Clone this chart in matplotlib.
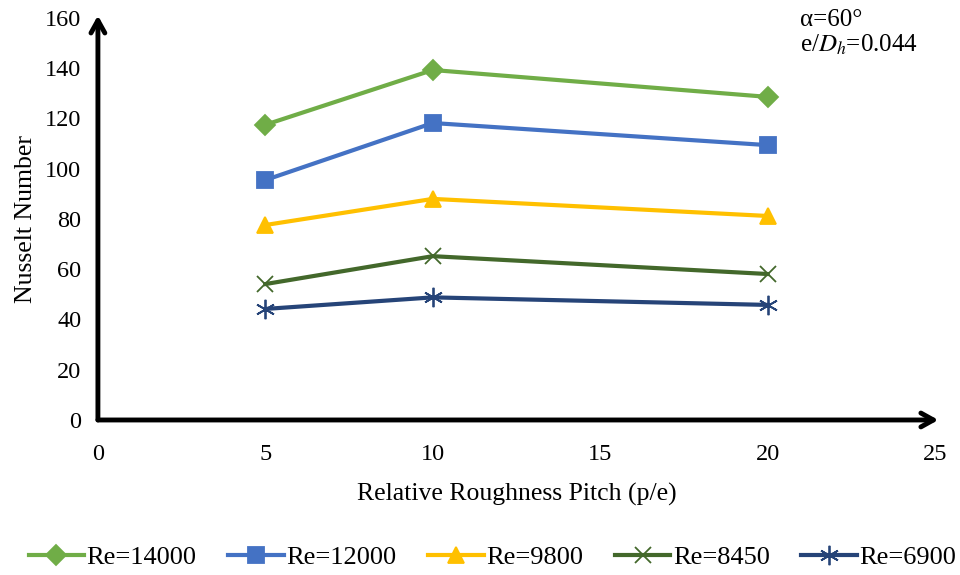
import matplotlib
matplotlib.use("Agg")
import matplotlib.pyplot as plt

plt.rcParams['font.family'] = ['Liberation Serif', 'DejaVu Serif']
plt.rcParams['mathtext.fontset'] = 'stix'

pitch = [5, 10, 20]
labels = ['Re=14000', 'Re=12000', 'Re=9800', 'Re=8450', 'Re=6900']
nu_14000 = [117.5, 139.3, 128.6]
nu_12000 = [95.5, 118.2, 109.4]
nu_9800 = [77.6, 88.0, 81.2]
nu_8450 = [54.1, 65.2, 58.1]
nu_6900 = [44.2, 48.8, 45.8]
series = [nu_14000, nu_12000, nu_9800, nu_8450, nu_6900]
colors = ['#70AD47', '#4472C4', '#FFC000', '#43682B', '#264478']
markers = ['D', 's', '^', 'x', (6, 2, 0)]
msizes = [10, 12, 12, 12, 14]

fig = plt.figure(figsize=(9.6, 5.75), dpi=100)
ax = fig.add_axes([0.102, 0.2696, 0.872, 0.6991])

for y, lab, c, m, ms in zip(series, labels, colors, markers, msizes):
    ax.plot(pitch, y, color=c, lw=3, marker=m, markersize=ms,
            markeredgewidth=1.3, markerfacecolor=c, markeredgecolor=c, label=lab)

ax.set_xlim(0, 25)
ax.set_ylim(0, 160)
ax.set_xticks([0, 5, 10, 15, 20, 25])
ax.set_yticks(range(0, 161, 20))
ax.tick_params(length=0, labelsize=17.5)
ax.tick_params(axis='x', pad=17)
ax.tick_params(axis='y', pad=12)
for s in ax.spines.values():
    s.set_visible(False)

# axis arrows
arrow_kw = dict(arrowstyle='->,head_length=0.9,head_width=0.5', lw=3.5, color='black',
                shrinkA=0, shrinkB=0)
ax.annotate('', xy=(0, 161), xytext=(0, 0), xycoords='data', arrowprops=arrow_kw,
            annotation_clip=False)
ax.annotate('', xy=(25.1, 0), xytext=(0, 0), xycoords='data', arrowprops=arrow_kw,
            annotation_clip=False)

ax.set_xlabel('Relative Roughness Pitch (p/e)', fontsize=18.5, labelpad=13)
ax.set_ylabel('Nusselt Number', fontsize=18.5, labelpad=6)

fig.text(0.833, 0.965, 'α=60°', fontsize=18, ha='left', va='center')
fig.text(0.833, 0.922, 'e/$D_h$=0.044', fontsize=18, ha='left', va='center')

fig.legend(loc='center', bbox_to_anchor=(0.513, 0.03), ncol=5, frameon=False,
           fontsize=19, handlelength=2.1, columnspacing=1.2, handletextpad=0.1)

fig.savefig('out.png', dpi=100)
